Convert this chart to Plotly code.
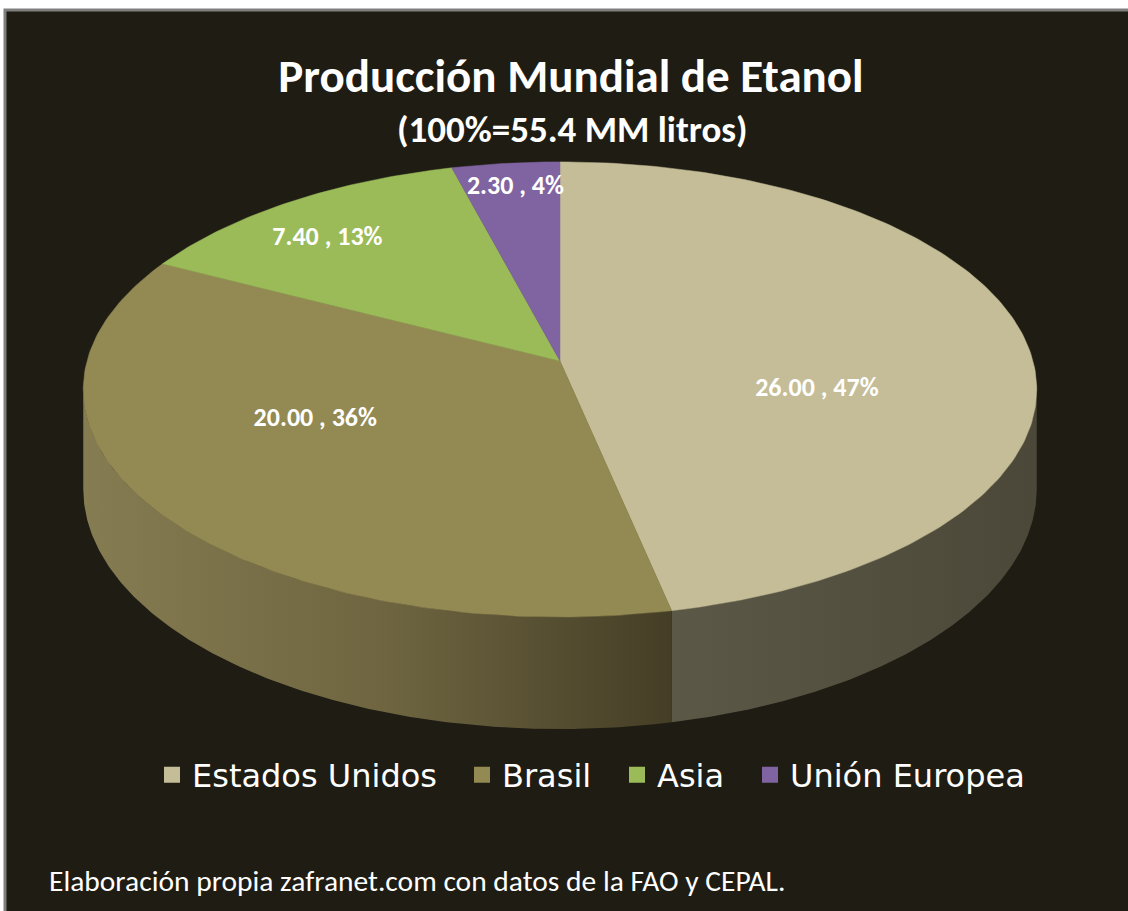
import numpy as np
import plotly.graph_objects as go

# ---------------- data ----------------
categories = ["Estados Unidos", "Brasil", "Asia", "Unión Europea"]
values = [26.00, 20.00, 7.40, 2.30]
title_text = "Producción Mundial de Etanol"
subtitle_text = "(100%=55.4 MM litros)"
source_text = "Elaboración propia zafranet.com con datos de la FAO y CEPAL."

# ---------------- style ----------------
top_colors = ["#C4BD97", "#938953", "#9BBB59", "#8064A2"]
side_colors = [["#5B5847", "#4B4839"],
               ["#857C52", "#6F6641", "#453E26"],
               ["#5E6F38", "#4A582B"],
               ["#4E3E63", "#3E3050"]]
BG = "#1E1C13"
LABEL_FONT = "Carlito, Lato, sans-serif"
LEGEND_FONT = "DejaVu Sans, Verdana, sans-serif"

# pseudo-3D projection parameters (pixels, figure coordinates)
CX, CY = 560, 361      # projected pie center
A, B = 473, 224        # horizontal / vertical radii
P = 0.125              # perspective strength
DEPTH = 98             # thickness of the pie
LABEL_R = [0.55, 0.62, 0.85, 0.80]
LABEL_DY = [41, -30, 15, -12]
LEGEND_X = [152, 462, 617, 750]   # left position of each legend entry (px)

W, H = 1128, 911


def proj(phi, r=1.0, drop=0.0):
    u = r * np.sin(phi)
    v = r * np.cos(phi)
    w = 1 + P * v
    return CX + A * u / w, CY - B * v / w + drop / w


vals = np.array(values, dtype=float)
total = vals.sum()
fracs = vals / total
cum = np.concatenate([[0], np.cumsum(fracs)])
angles = cum * 2 * np.pi

fig = go.Figure()

# side walls (visible front part only)
vis_a = np.arccos(-P)
vis_b = 2 * np.pi - vis_a
for i in range(len(values)):
    a0, a1 = max(angles[i], vis_a), min(angles[i + 1], vis_b)
    if a1 <= a0:
        continue
    ph = np.linspace(a0, a1, 200)
    xt, yt = proj(ph)
    xb, yb = proj(ph[::-1], drop=DEPTH)
    xs = np.concatenate([xt, xb, xt[:1]])
    ys = np.concatenate([yt, yb, yt[:1]])
    cols = side_colors[i]
    cs = [[k / (len(cols) - 1), c] for k, c in enumerate(cols)]
    fig.add_trace(go.Scatter(
        x=xs, y=ys, mode="lines", fill="toself",
        line=dict(width=0, color=cols[0]),
        fillgradient=dict(type="horizontal", colorscale=cs),
        hoverinfo="skip", showlegend=False))

# top faces
for i, cat in enumerate(categories):
    n = max(int(400 * fracs[i]), 20)
    ph = np.linspace(angles[i], angles[i + 1], n)
    xa, ya = proj(ph)
    xs = np.concatenate([[CX], xa, [CX]])
    ys = np.concatenate([[CY], ya, [CY]])
    fig.add_trace(go.Scatter(
        x=xs, y=ys, mode="lines", fill="toself",
        fillcolor=top_colors[i], line=dict(width=0.5, color=top_colors[i]),
        name=cat, legendgroup=cat, showlegend=False,
        hovertemplate=f"{cat}: {values[i]:.2f}<extra></extra>"))

# data labels
lx, ly, lt = [], [], []
for i in range(len(values)):
    mid = (angles[i] + angles[i + 1]) / 2
    x, y = proj(mid, r=LABEL_R[i])
    lx.append(x)
    ly.append(y + LABEL_DY[i])
    lt.append(f"<b>{values[i]:.2f} , {fracs[i]*100:.0f}%</b>")
fig.add_trace(go.Scatter(
    x=lx, y=ly, text=lt, mode="text",
    textfont=dict(family=LABEL_FONT, size=26, color="white"),
    hoverinfo="skip", showlegend=False))

# legend entries (one legend box per entry to reproduce the spacing)
legend_layouts = {}
for i, cat in enumerate(categories):
    lname = "legend" if i == 0 else f"legend{i + 1}"
    fig.add_trace(go.Scatter(
        x=[None], y=[None], mode="markers", name=cat, legendgroup=cat,
        legend=lname,
        marker=dict(symbol="square", size=16, color=top_colors[i])))
    legend_layouts[lname] = dict(
        orientation="h", x=LEGEND_X[i] / W, xanchor="left",
        y=1 - 775 / H, yanchor="middle",
        font=dict(family=LEGEND_FONT, size=32, color="white"),
        bgcolor="rgba(0,0,0,0)", itemclick=False, itemdoubleclick=False)

fig.update_layout(
    width=W, height=H, autosize=False,
    margin=dict(l=0, r=0, t=0, b=0),
    paper_bgcolor="white", plot_bgcolor="rgba(0,0,0,0)",
    xaxis=dict(range=[0, W], visible=False, fixedrange=True),
    yaxis=dict(range=[H, 0], visible=False, fixedrange=True),
    title=dict(text=f"<b>{title_text}</b>", x=571 / W, xanchor="center",
               y=1 - 76 / H, yanchor="middle",
               font=dict(family=LABEL_FONT, size=47, color="white")),
    shapes=[dict(type="rect", xref="x", yref="y", x0=5, y0=10, x1=W + 20, y1=H + 20,
                 line=dict(color="#7F7F7F", width=3), fillcolor=BG, layer="below")],
    annotations=[
        dict(text=f"<b>{subtitle_text}</b>", xref="paper", yref="paper",
             x=572 / W, y=1 - 129 / H, xanchor="center", yanchor="middle",
             showarrow=False, font=dict(family=LABEL_FONT, size=37, color="white")),
        dict(text=source_text, xref="paper", yref="paper",
             x=47 / W, y=1 - 881 / H, xanchor="left", yanchor="middle",
             showarrow=False, font=dict(family=LABEL_FONT, size=29.5, color="white")),
    ],
    **legend_layouts,
)

fig.write_html("out.html",
               config={"displayModeBar": False},
               post_script="document.body.style.margin='0px';"
                           "document.body.style.overflow='hidden';")
